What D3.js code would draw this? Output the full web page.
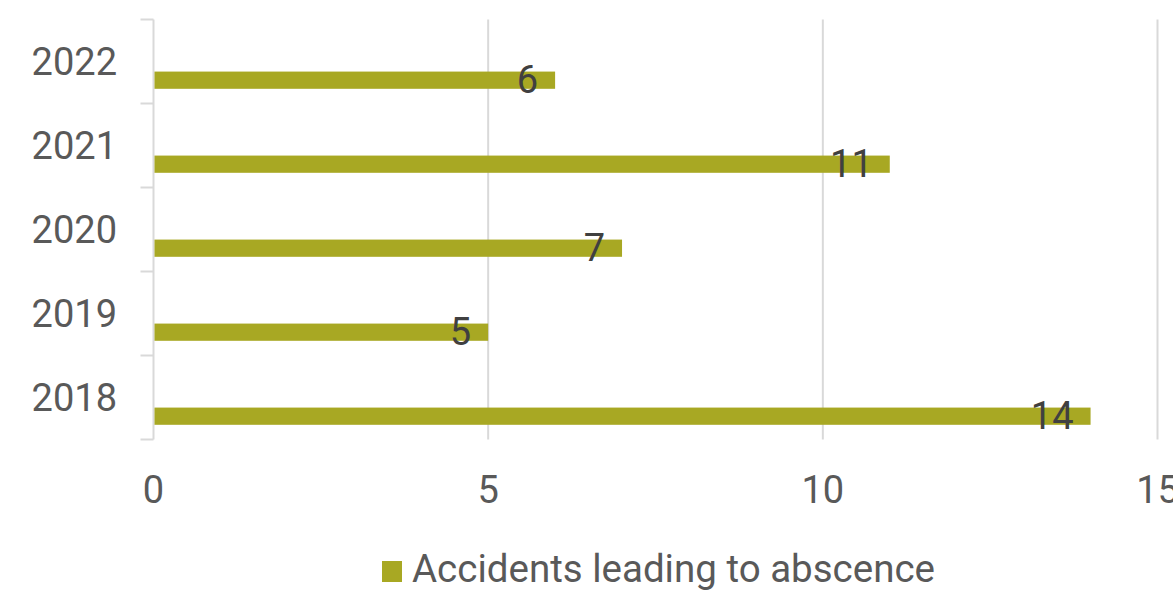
<!DOCTYPE html>
<html><head><meta charset="utf-8">
<script src="https://cdn.jsdelivr.net/npm/d3@7"></script>
<style>body{margin:0;background:#fff}svg{display:block}text{font-family:Roboto,"Liberation Sans",sans-serif}</style>
</head><body><svg id="c" width="1173" height="592"></svg>
<script>
const categories = ["2022","2021","2020","2019","2018"];
const values = [6, 11, 7, 5, 14];
const xTicks = [0, 5, 10, 15];
const seriesName = "Accidents leading to abscence";

const svg = d3.select("#c");
const x = d3.scaleLinear().domain([0, 15]).range([153.5, 1157.5]);
const y = d3.scaleBand().domain(categories).range([19.5, 439.5]).padding(0);
const bw = y.bandwidth();
const barColor = "#A8A823";
const fs = 38;

// gridlines
svg.append("g").selectAll("line").data(xTicks.filter(d => d > 0)).join("line")
  .attr("x1", d => x(d)).attr("x2", d => x(d))
  .attr("y1", y.range()[0]).attr("y2", y.range()[1])
  .attr("stroke", "#d9d9d9").attr("stroke-width", 2);

// y axis line and ticks
svg.append("line").attr("x1", x(0)).attr("x2", x(0))
  .attr("y1", y.range()[0]).attr("y2", y.range()[1])
  .attr("stroke", "#d9d9d9").attr("stroke-width", 2);
const bounds = categories.map(c => y(c)).concat([y.range()[1]]);
svg.append("g").selectAll("line").data(bounds).join("line")
  .attr("x1", x(0) - 13).attr("x2", x(0))
  .attr("y1", d => d).attr("y2", d => d)
  .attr("stroke", "#d9d9d9").attr("stroke-width", 2);

// y labels
svg.append("g").selectAll("text").data(categories).join("text")
  .attr("x", 117).attr("y", d => y(d) + bw / 2).attr("dy", "0.35em")
  .attr("text-anchor", "end").attr("font-size", fs).attr("fill", "#595959")
  .text(d => d);

// x labels
svg.append("g").selectAll("text").data(xTicks).join("text")
  .attr("x", d => x(d)).attr("y", 502.5)
  .attr("text-anchor", "middle").attr("font-size", fs).attr("fill", "#595959")
  .text(d => d);

// bars
const data = categories.map((c, i) => ({c, v: values[i]}));
svg.append("g").selectAll("rect").data(data).join("rect")
  .attr("x", x(0) + 1).attr("y", d => y(d.c) + bw * 0.62)
  .attr("width", d => x(d.v) - x(0) - 1).attr("height", bw * 0.205)
  .attr("fill", barColor);

// data labels
svg.append("g").selectAll("text").data(data).join("text")
  .attr("x", d => x(d.v) - 17).attr("y", d => y(d.c) + bw * 0.7125).attr("dy", "0.35em")
  .attr("text-anchor", "end").attr("font-size", fs).attr("fill", "#404040")
  .text(d => d.v);

// legend
const lg = svg.append("g");
lg.append("rect").attr("x", 382).attr("y", 561).attr("width", 20).attr("height", 21).attr("fill", barColor);
lg.append("text").attr("x", 412).attr("y", 581.5).attr("font-size", 38.5).attr("fill", "#595959").text(seriesName);
</script></body></html>
